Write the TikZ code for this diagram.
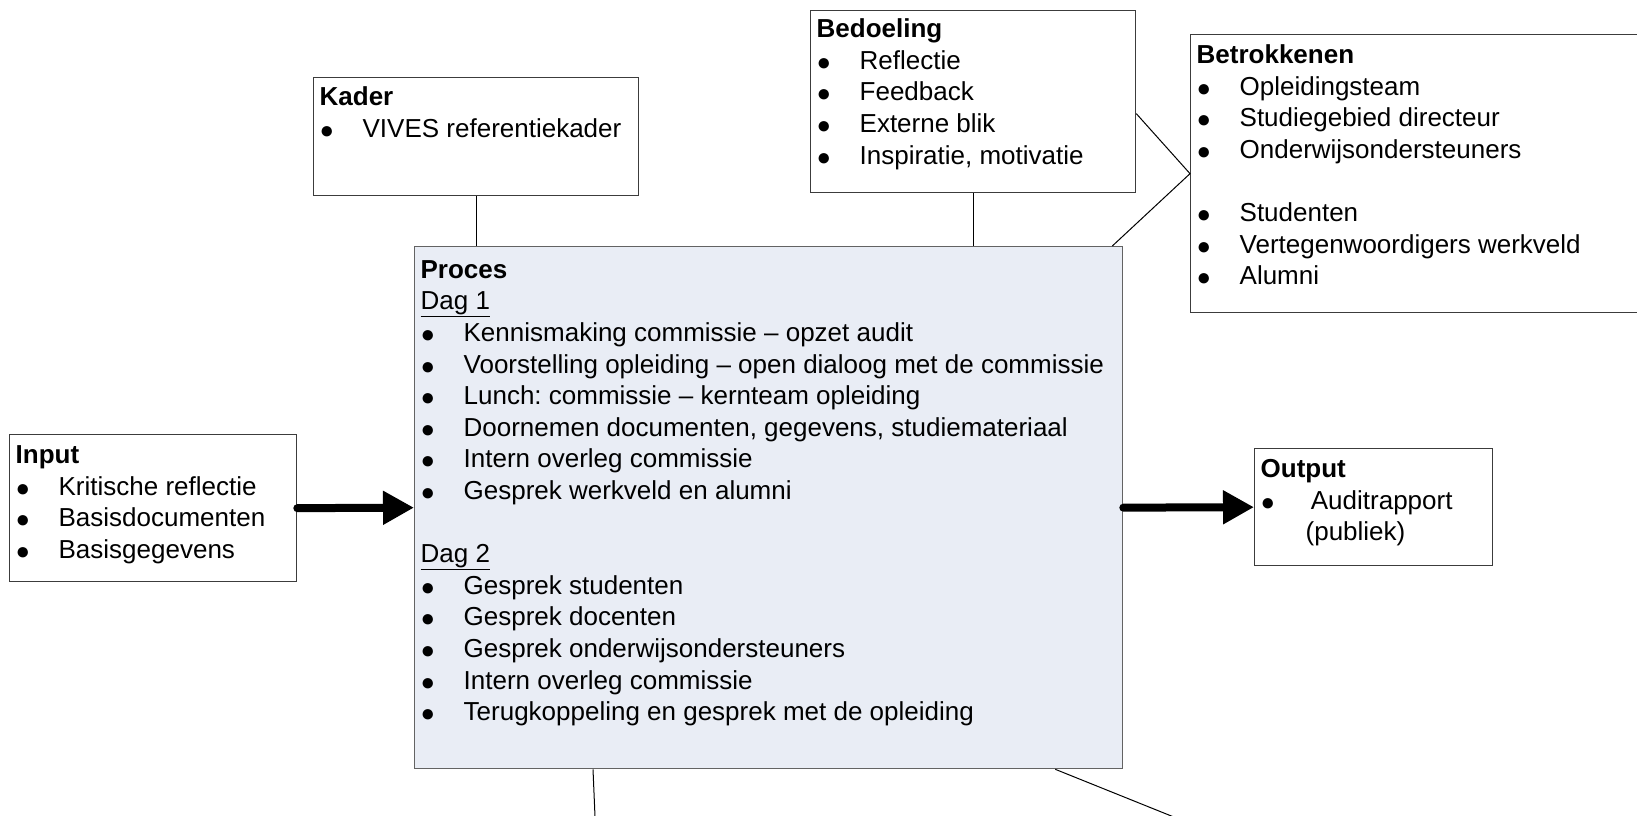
\documentclass[tikz,border=0pt]{standalone}
\usepackage{fontspec}
\setmainfont{Liberation Sans}
\usetikzlibrary{arrows.meta}
\frenchspacing

\definecolor{procesfill}{RGB}{233,237,245}
\definecolor{boxline}{RGB}{60,60,60}

\newcommand{\itm}{\makebox[43pt][l]{\raisebox{-1pt}{\fontsize{24}{24}\selectfont ●}}}
\newcommand{\boxtext}[4]{\parbox[t][#2][t]{#1}{\vspace*{#3}#4}}

\tikzset{
  box/.style={draw=boxline, line width=1.3pt, anchor=north west, inner xsep=6pt, inner ysep=0pt,
    font=\fontsize{26}{31.6}\selectfont},
  link/.style={draw=black, line width=1pt},
  flow/.style={line width=8pt, line cap=round, -{Triangle[length=31pt,width=32pt]}},
}

\begin{document}
\begin{tikzpicture}[x=1pt,y=-1pt]

        \clip (0,0) rectangle (1637,815);

        \node[box] (kader) at (313,77) {\boxtext{313pt}{118pt}{6pt}{%
            \strut\textbf{Kader}\\
            \strut\itm VIVES referentiekader}};
        \node[box] (bedoeling) at (810,10) {\boxtext{313pt}{182pt}{5pt}{%
            \strut\textbf{Bedoeling}\\
            \strut\itm Reflectie\\
            \strut\itm Feedback\\
            \strut\itm Externe blik\\
            \strut\itm Inspiratie, motivatie}};
        \node[box] (betrokkenen) at (1190,34) {\boxtext{448pt}{278pt}{7pt}{%
            \strut\textbf{Betrokkenen}\\
            \strut\itm Opleidingsteam\\
            \strut\itm Studiegebied directeur\\
            \strut\itm Onderwijsondersteuners\\
            \strut\\
            \strut\itm Studenten\\
            \strut\itm Vertegenwoordigers werkveld\\
            \strut\itm Alumni}};
        \node[box, fill=procesfill, draw=boxline!80] (proces) at (414,246) {\boxtext{696pt}{522pt}{9.5pt}{%
            \strut\textbf{Proces}\\
            \strut\underline{Dag 1}\\
            \strut\itm Kennismaking commissie -- opzet audit\\
            \strut\itm Voorstelling opleiding -- open dialoog met de commissie\\
            \strut\itm Lunch: commissie -- kernteam opleiding\\
            \strut\itm Doornemen documenten, gegevens, studiemateriaal\\
            \strut\itm Intern overleg commissie\\
            \strut\itm Gesprek werkveld en alumni\\
            \strut\\
            \strut\underline{Dag 2}\\
            \strut\itm Gesprek studenten\\
            \strut\itm Gesprek docenten\\
            \strut\itm Gesprek onderwijsondersteuners\\
            \strut\itm Intern overleg commissie\\
            \strut\itm Terugkoppeling en gesprek met de opleiding}};
        \node[box] (input) at (9,434) {\boxtext{275pt}{147pt}{7pt}{%
            \strut\textbf{Input}\\
            \strut\itm Kritische reflectie\\
            \strut\itm Basisdocumenten\\
            \strut\itm Basisgegevens}};
        \node[box] (output) at (1254,448) {\boxtext{226pt}{117pt}{7pt}{%
            \strut\textbf{Output}\\
            \strut\itm\ Auditrapport\\
            \strut\hspace*{45pt}(publiek)}};

        % lijnen
        \coordinate (lowa) at (596,840);
        \coordinate (lowb) at (1231,840);
        \draw[link] (kader.south) -- (kader.south |- proces.north);
        \draw[link] (bedoeling.south) -- (bedoeling.south |- proces.north);
        \draw[link] ([yshift=-12pt]bedoeling.east) -- (betrokkenen.west) -- ([xshift=-11pt]proces.north east);
        \draw[link] ([xshift=179pt]proces.south west) -- (lowa);
        \draw[link] ([xshift=-68pt]proces.south east) -- (lowb);

        % pijlen
        \draw[flow] (input.east) -- (proces.west);
        \draw[flow] (proces.east) -- (output.west);

    \end{tikzpicture}
\end{document}
